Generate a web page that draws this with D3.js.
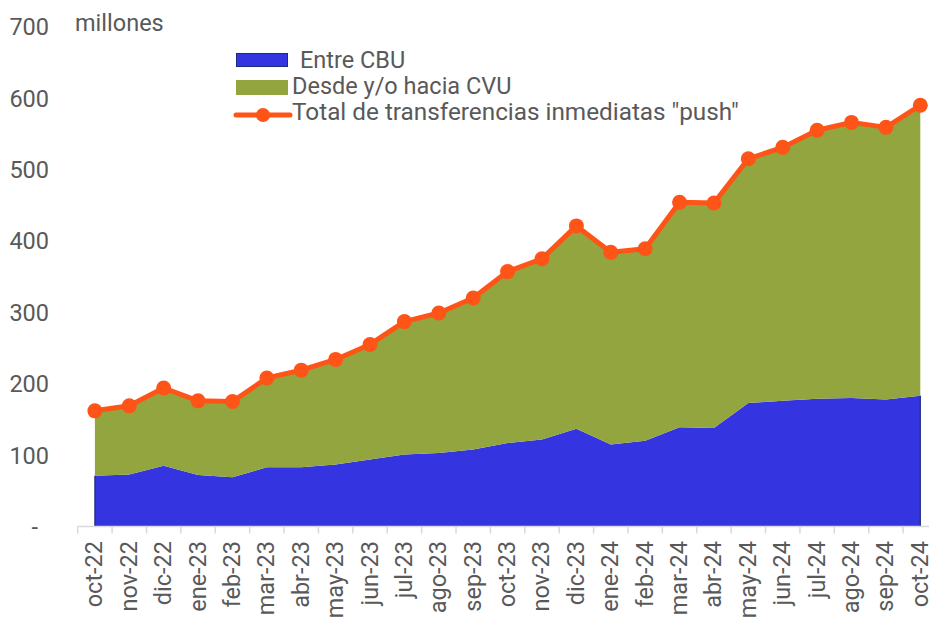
<html>
<head>
<script src="https://d3js.org/d3.v7.min.js"></script>
<style>
    body { margin: 0; background: #fff; }
    svg text { font-family: Roboto, "Noto Sans", sans-serif; fill: #595959; }
    .axis .domain, .axis line { stroke: #d9d9d9; stroke-width: 1.5; }
</style>
</head>
<body>
<svg id="chart" width="929" height="618"></svg>
<script>
    // datos (millones)
    const months = ["oct-22","nov-22","dic-22","ene-23","feb-23","mar-23","abr-23","may-23","jun-23","jul-23","ago-23","sep-23",
                    "oct-23","nov-23","dic-23","ene-24","feb-24","mar-24","abr-24","may-24","jun-24","jul-24","ago-24","sep-24","oct-24"];
    const cbu   = [71,73,85,72,69,83,83,87,94,101,103,108,117,122,137,115,120,139,138,173,176,179,180,178,183];
    const cvu   = [91,96,109,104,106,125,136,147,161,186,196,212,240,253,284,269,269,315,315,342,355,376,386,381,407];
    const total = [162,169,194,176,175,208,219,234,255,287,299,320,357,375,421,384,389,454,453,515,531,555,566,559,590];
    const yTicks = [0,100,200,300,400,500,600,700];
    const legendLabels = ["Entre CBU", "Desde y/o hacia CVU", "Total de transferencias inmediatas \"push\""];

    const colBlue = "#3434e1", colGreen = "#93a53e", colOrange = "#ff5417";
    const fs = "23.5px";

    const svg = d3.select("#chart");
    const x = d3.scaleBand().domain(months).range([77.7, 937.5]).padding(0);
    const cx = m => x(m) + x.bandwidth() / 2;
    const y = d3.scaleLinear().domain([0, 700]).range([526.5, 26.7]);

    const rows = months.map((m, i) => ({ m: m, cbu: cbu[i], cvu: cvu[i], total: total[i] }));
    const series = d3.stack().keys(["cbu", "cvu"])(rows);

    const area = d3.area()
        .x(d => cx(d.data.m))
        .y0(d => y(d[0]))
        .y1(d => y(d[1]));

    svg.append("g").selectAll("path")
        .data(series)
        .join("path")
        .attr("fill", (d, i) => i === 0 ? colBlue : colGreen)
        .attr("d", area);

    // bordes laterales del area azul
    svg.append("g").selectAll("line")
        .data([rows[0], rows[rows.length - 1]])
        .join("line")
        .attr("x1", d => cx(d.m)).attr("x2", d => cx(d.m))
        .attr("y1", y(0)).attr("y2", d => y(d.cbu))
        .attr("stroke", "#1c2a80").attr("stroke-width", 1.2);

    // eje x
    const xAxis = svg.append("g")
        .attr("class", "axis")
        .attr("transform", `translate(0,${y(0)})`)
        .call(d3.axisBottom(x).tickSize(0).tickFormat(""));
    xAxis.selectAll(".tick").remove();
    xAxis.selectAll("line.sep")
        .data(months)
        .join("line")
        .attr("class", "sep")
        .attr("x1", d => x(d)).attr("x2", d => x(d))
        .attr("y1", 0).attr("y2", 7);
    xAxis.select(".domain").attr("d", `M${x(months[0])},0H929`);

    svg.append("g").selectAll("text")
        .data(months)
        .join("text")
        .attr("transform", d => `translate(${cx(d) - 1},541) rotate(-90)`)
        .attr("text-anchor", "end")
        .attr("dy", "0.36em")
        .style("font-size", fs)
        .text(d => d);

    // eje y
    svg.append("g").selectAll("text")
        .data(yTicks)
        .join("text")
        .attr("x", d => d === 0 ? 38 : 49)
        .attr("y", d => y(d))
        .attr("dy", "0.36em")
        .attr("text-anchor", "end")
        .style("font-size", fs)
        .text(d => d === 0 ? "-" : d);

    svg.append("text")
        .attr("x", 75).attr("y", 31)
        .style("font-size", fs)
        .text("millones");

    // total
    svg.append("path")
        .datum(rows)
        .attr("fill", "none")
        .attr("stroke", colOrange)
        .attr("stroke-width", 5)
        .attr("stroke-linejoin", "round")
        .attr("d", d3.line().x(d => cx(d.m)).y(d => y(d.total)));

    svg.append("g").selectAll("circle")
        .data(rows)
        .join("circle")
        .attr("cx", d => cx(d.m))
        .attr("cy", d => y(d.total))
        .attr("r", 7.5)
        .attr("fill", colOrange);

    // leyenda
    const legend = svg.append("g");
    legend.append("rect")
        .attr("x", 236.5).attr("y", 53.5).attr("width", 51).attr("height", 13)
        .attr("fill", colBlue).attr("stroke", "#1c2a80").attr("stroke-width", 1);
    legend.append("rect")
        .attr("x", 236).attr("y", 80).attr("width", 52).attr("height", 15)
        .attr("fill", colGreen);
    legend.append("line")
        .attr("x1", 236).attr("x2", 290).attr("y1", 115).attr("y2", 115)
        .attr("stroke", colOrange).attr("stroke-width", 5).attr("stroke-linecap", "round");
    legend.append("circle")
        .attr("cx", 263).attr("cy", 115).attr("r", 7)
        .attr("fill", colOrange);
    legend.selectAll("text.lg")
        .data(legendLabels)
        .join("text")
        .attr("class", "lg")
        .attr("x", (d, i) => i === 0 ? 300 : 292)
        .attr("y", (d, i) => 68 + i * 25.5 + (i === 2 ? 1 : 0))
        .style("font-size", (d, i) => i === 2 ? "24.3px" : fs)
        .text(d => d);
</script>
</body>
</html>
